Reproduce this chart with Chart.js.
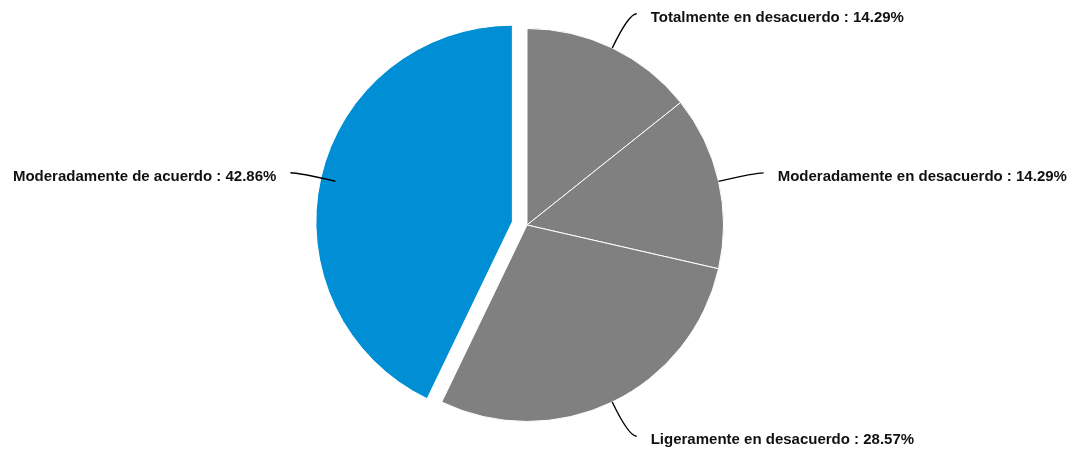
<!DOCTYPE html>
<html>
<head>
<meta charset="utf-8">
<script src="https://cdn.jsdelivr.net/npm/chart.js@4.4.0/dist/chart.umd.min.js"></script>
<style>
  html, body { margin: 0; padding: 0; background: #fff; }
  #wrap { width: 1076px; height: 457px; }
</style>
</head>
<body>
<div id="wrap"><canvas id="pieChart" width="1076" height="457"></canvas></div>
<script>
const categories = [
  'Totalmente en desacuerdo',
  'Moderadamente en desacuerdo',
  'Ligeramente en desacuerdo',
  'Moderadamente de acuerdo'
];
const percentages = [14.29, 14.29, 28.57, 42.86];
const sliceColors = ['#808080', '#808080', '#808080', '#008fd5'];
const explodeDist = [0, 0, 0, 15];

// separa la porcion sin agrandar el radio (offset de Chart.js lo agranda)
const explodeSlices = {
  id: 'explodeSlices',
  afterDatasetsUpdate(chart) {
    chart.getDatasetMeta(0).data.forEach((arc, i) => {
      arc.cx0 = arc.x;
      arc.cy0 = arc.y;
      const d = explodeDist[i];
      if (!d) return;
      const mid = (arc.startAngle + arc.endAngle) / 2;
      arc.x += Math.cos(mid) * d;
      arc.y += Math.sin(mid) * d;
    });
  }
};

// etiquetas con linea guia
const leaderLabels = {
  id: 'leaderLabels',
  afterDatasetsDraw(chart) {
    const ctx = chart.ctx;
    const meta = chart.getDatasetMeta(0);
    ctx.save();
    ctx.font = 'bold 15px "Liberation Sans", Arial, sans-serif';
    ctx.strokeStyle = '#000';
    ctx.fillStyle = '#111';
    ctx.lineWidth = 1.4;
    meta.data.forEach((arc, i) => {
      const mid = (arc.startAngle + arc.endAngle) / 2;
      const cx = arc.cx0, cy = arc.cy0, r = arc.outerRadius;
      const cos = Math.cos(mid), sin = Math.sin(mid);
      const side = cos >= 0 ? 1 : -1;
      const x0 = cx + r * cos, y0 = cy + r * sin;
      const x1 = cx + (r + 38) * cos, y1 = cy + (r + 38) * sin;
      const x2 = x1 + 8 * side, y2 = y1;
      ctx.beginPath();
      ctx.moveTo(x0, y0);
      ctx.quadraticCurveTo(x1, y1, x2, y2);
      ctx.stroke();
      const text = categories[i] + ' : ' + percentages[i].toFixed(2) + '%';
      ctx.textAlign = side > 0 ? 'left' : 'right';
      ctx.textBaseline = 'middle';
      ctx.fillText(text, x2 + 14 * side, y2 + 4);
    });
    ctx.restore();
  }
};

new Chart(document.getElementById('pieChart'), {
  type: 'pie',
  data: {
    labels: categories,
    datasets: [{
      data: percentages,
      backgroundColor: sliceColors,
      borderColor: '#ffffff',
      borderWidth: 1
    }]
  },
  options: {
    responsive: false,
    animation: false,
    layout: { padding: { top: 28, bottom: 35, left: 0, right: 22 } },
    plugins: {
      legend: { display: false },
      tooltip: { enabled: false }
    }
  },
  plugins: [explodeSlices, leaderLabels]
});
</script>
</body>
</html>
